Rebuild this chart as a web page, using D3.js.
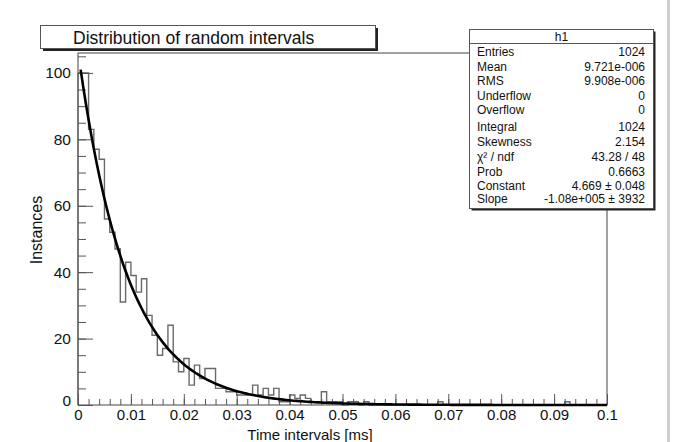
<!DOCTYPE html>
<html>
<head>
<meta charset="utf-8">
<script src="https://cdn.jsdelivr.net/npm/d3@7"></script>
<style>
  html, body { margin: 0; padding: 0; background: #fff; }
  svg { display: block; font-family: "Liberation Sans", Arial, sans-serif; }
</style>
</head>
<body>
<svg id="chart" width="676" height="442"></svg>
<script>
// ---- data ----
const binCounts = [
  100,100,83,77,74,56,52,47,31,43,
  39,34,38,27,21,15,17,24,13,10,
  14,6,12,8,11,11,5,5,4,4,
  3,3,3,6,3,5,3,5,1,1,
  3,2,3,2,1,1,4,1,1,1,
  0,1,1,0,1,0,0,0,0,0,
  0,0,0,0,0,0,0,0,1,0,
  0,0,0,0,0,0,0,0,0,0,
  0,0,0,0,0,0,0,0,0,0,
  0,0,1,0,0,0,0,0,0,0
];
const xMin = 0, xMax = 0.1;
const xTickValues = [0,0.01,0.02,0.03,0.04,0.05,0.06,0.07,0.08,0.09,0.1];
const xTickLabels = ["0","0.01","0.02","0.03","0.04","0.05","0.06","0.07","0.08","0.09","0.1"];
const yTickValues = [0,20,40,60,80,100];
const yTickLabels = ["0","20","40","60","80","100"];
const fitConstant = 4.669;
const fitSlope = -1.08e5;   // per second; axis is in ms
const titleText = "Distribution of random intervals";
const xTitle = "Time intervals [ms]";
const yTitle = "Instances";
const statsName = "h1";
const statsLabels = ["Entries","Mean","RMS","Underflow","Overflow","Integral","Skewness","χ² / ndf","Prob","Constant","Slope"];
const statsValues = ["1024","9.721e-006","9.908e-006","0","0","1024","2.154","43.28 / 48","0.6663","4.669 ± 0.048","-1.08e+005 ± 3932"];

// ---- drawing ----
const svg = d3.select("#chart");
const L = 78, R = 607, T = 53, B = 405;
const x = d3.scaleLinear().domain([xMin, xMax]).range([L, R]);
const y = d3.scaleLinear().domain([0, 106]).range([B, T]);

// right gray border strip
svg.append("rect").attr("x", 667).attr("y", 0).attr("width", 3).attr("height", 442).attr("fill", "#cfcfcf");

// frame
svg.append("rect").attr("x", L).attr("y", T).attr("width", R - L).attr("height", B - T)
  .attr("fill", "none").attr("stroke", "#444").attr("stroke-width", 1);

// histogram outline
const nb = binCounts.length;
const bw = (xMax - xMin) / nb;
const pts = binCounts.map((c, i) => [xMin + i * bw, c]);
pts.push([xMax, binCounts[nb - 1]]);
const histLine = d3.line().x(d => x(d[0])).y(d => y(d[1])).curve(d3.curveStepAfter);
svg.append("path")
  .attr("d", "M" + x(xMin) + "," + y(0) + histLine(pts).replace(/^M/, "L") + "L" + x(xMax) + "," + y(0))
  .attr("fill", "none").attr("stroke", "#6a6a6a").attr("stroke-width", 1.4);

// axes
const xAxisMajor = d3.axisBottom(x).tickValues(xTickValues)
  .tickFormat((d, i) => xTickLabels[i]).tickSizeInner(-11).tickSizeOuter(0).tickPadding(4);
const gx = svg.append("g").attr("transform", `translate(0,${B})`).call(xAxisMajor);
const xAxisMinor = d3.axisBottom(x).tickValues(d3.range(0, 50).map(i => i * 0.002))
  .tickFormat("").tickSizeInner(-6).tickSizeOuter(0);
const gxm = svg.append("g").attr("transform", `translate(0,${B})`).call(xAxisMinor);

const yAxisMajor = d3.axisLeft(y).tickValues(yTickValues)
  .tickFormat((d, i) => yTickLabels[i]).tickSizeInner(-15).tickSizeOuter(0).tickPadding(7);
const gy = svg.append("g").attr("transform", `translate(${L},0)`).call(yAxisMajor);
const yAxisMinor = d3.axisLeft(y).tickValues(d3.range(0, 22).map(i => i * 5))
  .tickFormat("").tickSizeInner(-8).tickSizeOuter(0);
const gym = svg.append("g").attr("transform", `translate(${L},0)`).call(yAxisMinor);

[gx, gxm, gy, gym].forEach(g => {
  g.select(".domain").remove();
  g.selectAll("line").attr("stroke", "#555").attr("stroke-width", 1);
  g.selectAll("text").attr("fill", "#111").style("font-family", "'Liberation Sans', Arial, sans-serif");
});
gx.selectAll("text").style("font-size", "15px");
gy.selectAll("text").style("font-size", "15.5px");
gy.selectAll(".tick").filter(d => d === 0).select("text").attr("dy", "0.0em");

// fit curve
const slopePerMs = fitSlope * 1e-3;
const curveXs = d3.range(0, 201).map(i => xMin + bw / 2 + (xMax - xMin - bw / 2) * i / 200);
const fitLine = d3.line().x(d => x(d)).y(d => y(Math.exp(fitConstant + slopePerMs * d))).curve(d3.curveLinear);
svg.append("path").attr("d", fitLine(curveXs))
  .attr("fill", "none").attr("stroke", "#000").attr("stroke-width", 2.6);

// axis titles
svg.append("text").attr("x", 310).attr("y", 434).attr("text-anchor", "middle")
  .attr("dominant-baseline", "central").style("font-size", "15px").attr("fill", "#111").text(xTitle);
svg.append("text").attr("transform", "translate(36,230) rotate(-90)").attr("text-anchor", "middle")
  .attr("dominant-baseline", "central").style("font-size", "16px").attr("fill", "#111").text(yTitle);

// title box
svg.append("rect").attr("x", 43).attr("y", 28).attr("width", 335).attr("height", 23).attr("fill", "#222");
svg.append("rect").attr("x", 40.5).attr("y", 25.5).attr("width", 335).attr("height", 23)
  .attr("fill", "#fff").attr("stroke", "#555").attr("stroke-width", 1);
svg.append("text").attr("x", 73).attr("y", 37.5).attr("dominant-baseline", "central")
  .style("font-size", "17.5px").attr("fill", "#111").text(titleText);

// stats box
const sx = 469.5, sy = 29.5, sw = 184, sh = 179;
svg.append("rect").attr("x", sx + 2).attr("y", sy + 2).attr("width", sw).attr("height", sh).attr("fill", "#222");
svg.append("rect").attr("x", sx).attr("y", sy).attr("width", sw).attr("height", sh)
  .attr("fill", "#fff").attr("stroke", "#555").attr("stroke-width", 1);
svg.append("line").attr("x1", sx).attr("x2", sx + sw).attr("y1", 43.5).attr("y2", 43.5)
  .attr("stroke", "#555").attr("stroke-width", 1);
svg.append("text").attr("x", sx + sw / 2).attr("y", 37).attr("text-anchor", "middle")
  .attr("dominant-baseline", "central").style("font-size", "12px").attr("fill", "#111").text(statsName);
const rowY = [52, 67, 81, 96, 110, 127, 142, 157, 172, 186, 199];
const rows = svg.append("g").style("font-size", "12px").attr("fill", "#111");
rows.selectAll("text.lab").data(statsLabels).join("text").attr("class", "lab")
  .attr("x", 477).attr("y", (d, i) => rowY[i]).attr("dominant-baseline", "central").text(d => d);
rows.selectAll("text.val").data(statsValues).join("text").attr("class", "val")
  .attr("x", 645).attr("y", (d, i) => rowY[i]).attr("text-anchor", "end")
  .attr("dominant-baseline", "central").text(d => d);
</script>
</body>
</html>
